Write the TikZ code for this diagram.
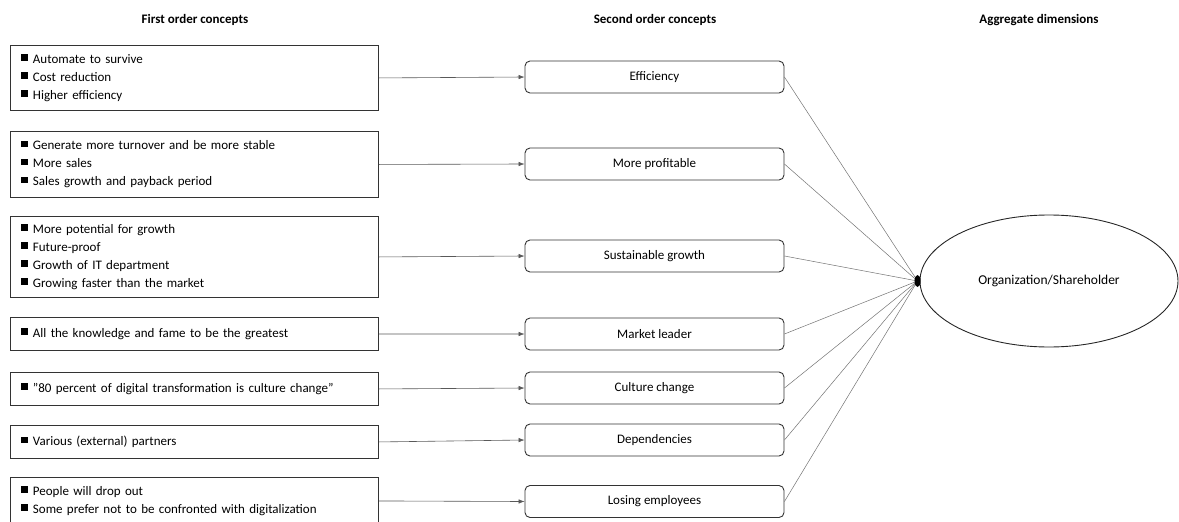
\documentclass[tikz,border=0pt]{standalone}
\usepackage{fontspec}
\setmainfont{Carlito}
\usetikzlibrary{arrows.meta,shapes.geometric}
% small black square used as a list bullet
\newcommand{\bsq}{\rule[2.5pt]{6.5pt}{6.5pt}\hspace{5pt}}
\tikzset{
  firstbox/.style={draw=black!80, line width=0.9pt, rectangle, anchor=north west,
    minimum width=368pt, text width=346pt, inner xsep=11pt, inner ysep=4pt, align=left,
    font=\fontsize{13}{18}\selectfont},
  secondbox/.style={draw=black!80, line width=0.9pt, rounded corners=5pt,
    minimum width=259pt, minimum height=32pt, font=\fontsize{13}{15}\selectfont},
  aggbox/.style={draw=black!85, line width=0.9pt, ellipse, minimum width=258pt,
    minimum height=132pt, inner sep=0pt, font=\fontsize{13.5}{15}\selectfont},
  head/.style={font=\bfseries\fontsize{13}{15}\selectfont},
  feed/.style={draw=black!65, line width=0.6pt, -{Latex[length=6pt,width=4.5pt]}},
  link/.style={draw=black!55, line width=0.5pt},
}
\begin{document}
\begin{tikzpicture}[x=1pt,y=-1pt]
\useasboundingbox (0,0) rectangle (1179,522);

% column headings
\node[head] (h1) at (195,20) {First order concepts};
\node[head] (h2) at (655,20) {Second order concepts};
\node[head] (h3) at (1039,20) {Aggregate dimensions};

% first order concepts
\node[firstbox, minimum height=65pt] (f1) at (10,45)
  {\bsq Automate to survive\\ \bsq Cost reduction\\ \bsq Higher efficiency};
\node[firstbox, minimum height=66pt] (f2) at (10,131)
  {\bsq Generate more turnover and be more stable\\ \bsq More sales\\ \bsq Sales growth and payback period};
\node[firstbox, minimum height=81pt] (f3) at (10,216)
  {\bsq More potential for growth\\ \bsq Future-proof\\ \bsq Growth of IT department\\ \bsq Growing faster than the market};
\node[firstbox, minimum height=33pt] (f4) at (10,317)
  {\bsq All the knowledge and fame to be the greatest};
\node[firstbox, minimum height=33pt] (f5) at (10,372)
  {\bsq \symbol{34}80 percent of digital transformation is culture change\symbol{34}};
\node[firstbox, minimum height=33pt] (f6) at (10,425)
  {\bsq Various (external) partners};
\node[firstbox, minimum height=47pt] (f7) at (10,477)
  {\bsq People will drop out\\ \bsq Some prefer not to be confronted with digitalization};

% second order concepts
\node[secondbox] (s1) at (654.5,77)  {Efficiency};
\node[secondbox] (s2) at (654.5,164) {More profitable};
\node[secondbox] (s3) at (654.5,256) {Sustainable growth};
\node[secondbox] (s4) at (654.5,334) {Market leader};
\node[secondbox] (s5) at (654.5,388) {Culture change};
\node[secondbox] (s6) at (654.5,440) {Dependencies};
\node[secondbox] (s7) at (654.5,501.5) {Losing employees};

% aggregate dimension
\node[aggbox] (org) at (1049,281) {Organization/Shareholder};

% first -> second order
\foreach \i in {1,...,7}{
  \draw[feed] (f\i.east) -- (s\i.west);
}

% second order -> aggregate dimension
\coordinate (hub) at ([xshift=-2pt]org.west);
\foreach \i in {1,...,7}{
  \draw[link] (s\i.east) -- (hub);
}
\fill (hub) ellipse (3pt and 6pt);
\end{tikzpicture}
\end{document}
